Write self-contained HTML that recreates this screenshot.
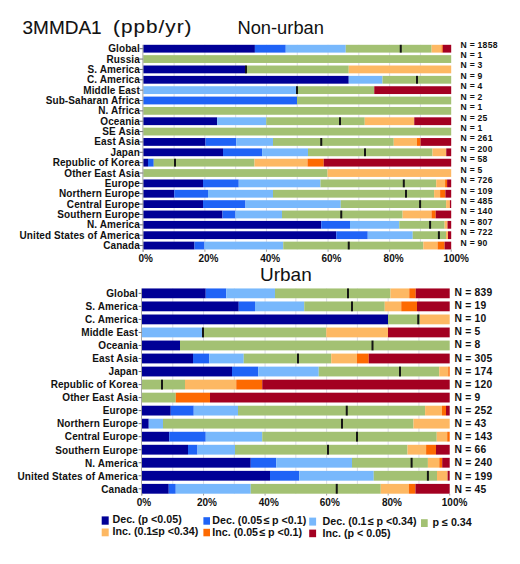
<!DOCTYPE html>
<html><head><meta charset="utf-8"><style>
html,body{margin:0;padding:0;background:#fff;}
body{width:520px;height:564px;position:relative;overflow:hidden;font-family:"Liberation Sans",sans-serif;color:#111;}
div{position:absolute;}
svg{position:absolute;left:0;top:0;}
.lab{font-weight:bold;white-space:nowrap;line-height:12px;text-align:right;letter-spacing:0.1px;}
.n{font-weight:bold;white-space:nowrap;line-height:12px;letter-spacing:0.25px;}
.axl{font-weight:bold;font-size:10px;width:40px;text-align:center;line-height:12px;}
.lt{font-weight:bold;font-size:10.7px;line-height:13px;white-space:nowrap;}
.title{line-height:24px;white-space:nowrap;}
</style></head><body>
<svg width="520" height="564" viewBox="0 0 520 564">
<rect x="173.59" y="44.8" width="1" height="204.64" fill="#dcdce6"/>
<rect x="204.38" y="44.8" width="1" height="204.64" fill="#dcdce6"/>
<rect x="235.17" y="44.8" width="1" height="204.64" fill="#dcdce6"/>
<rect x="265.96" y="44.8" width="1" height="204.64" fill="#dcdce6"/>
<rect x="296.75" y="44.8" width="1" height="204.64" fill="#dcdce6"/>
<rect x="327.54" y="44.8" width="1" height="204.64" fill="#dcdce6"/>
<rect x="358.33" y="44.8" width="1" height="204.64" fill="#dcdce6"/>
<rect x="389.12" y="44.8" width="1" height="204.64" fill="#dcdce6"/>
<rect x="419.91" y="44.8" width="1" height="204.64" fill="#dcdce6"/>
<rect x="139.5" y="48.2" width="3.8" height="1" fill="#707070"/>
<rect x="143.3" y="44.8" width="111.6" height="7.8" fill="#000096"/>
<rect x="254.9" y="44.8" width="30.85" height="7.8" fill="#1f63f6"/>
<rect x="285.75" y="44.8" width="60" height="7.8" fill="#78b8fc"/>
<rect x="345.75" y="44.8" width="85.85" height="7.8" fill="#a3c173"/>
<rect x="431.6" y="44.8" width="9.9" height="7.8" fill="#fdb863"/>
<rect x="441.5" y="44.8" width="1.3" height="7.8" fill="#fd6a02"/>
<rect x="442.8" y="44.8" width="8.4" height="7.8" fill="#a30021"/>
<rect x="399.75" y="44.8" width="2" height="7.8" fill="#151515"/>
<rect x="139.5" y="58.56" width="3.8" height="1" fill="#707070"/>
<rect x="143.3" y="55.16" width="307.9" height="7.8" fill="#a3c173"/>
<rect x="139.5" y="68.92" width="3.8" height="1" fill="#707070"/>
<rect x="143.3" y="65.52" width="102.2" height="7.8" fill="#000096"/>
<rect x="245.5" y="65.52" width="103.25" height="7.8" fill="#a3c173"/>
<rect x="348.75" y="65.52" width="102.45" height="7.8" fill="#fdb863"/>
<rect x="245" y="65.52" width="2" height="7.8" fill="#151515"/>
<rect x="139.5" y="79.28" width="3.8" height="1" fill="#707070"/>
<rect x="143.3" y="75.88" width="205.45" height="7.8" fill="#000096"/>
<rect x="348.75" y="75.88" width="33.75" height="7.8" fill="#78b8fc"/>
<rect x="382.5" y="75.88" width="68.7" height="7.8" fill="#a3c173"/>
<rect x="416" y="75.88" width="2" height="7.8" fill="#151515"/>
<rect x="139.5" y="89.64" width="3.8" height="1" fill="#707070"/>
<rect x="143.3" y="86.24" width="153.2" height="7.8" fill="#78b8fc"/>
<rect x="296.5" y="86.24" width="77.75" height="7.8" fill="#a3c173"/>
<rect x="374.25" y="86.24" width="76.95" height="7.8" fill="#a30021"/>
<rect x="296" y="86.24" width="2" height="7.8" fill="#151515"/>
<rect x="139.5" y="100" width="3.8" height="1" fill="#707070"/>
<rect x="143.3" y="96.6" width="153.7" height="7.8" fill="#1f63f6"/>
<rect x="297" y="96.6" width="154.2" height="7.8" fill="#a3c173"/>
<rect x="139.5" y="110.36" width="3.8" height="1" fill="#707070"/>
<rect x="143.3" y="106.96" width="307.9" height="7.8" fill="#a3c173"/>
<rect x="139.5" y="120.72" width="3.8" height="1" fill="#707070"/>
<rect x="143.3" y="117.32" width="73.8" height="7.8" fill="#000096"/>
<rect x="217.1" y="117.32" width="49.15" height="7.8" fill="#78b8fc"/>
<rect x="266.25" y="117.32" width="98.5" height="7.8" fill="#a3c173"/>
<rect x="364.75" y="117.32" width="49.5" height="7.8" fill="#fdb863"/>
<rect x="414.25" y="117.32" width="36.95" height="7.8" fill="#a30021"/>
<rect x="339" y="117.32" width="2" height="7.8" fill="#151515"/>
<rect x="139.5" y="131.08" width="3.8" height="1" fill="#707070"/>
<rect x="143.3" y="127.68" width="307.9" height="7.8" fill="#a3c173"/>
<rect x="139.5" y="141.44" width="3.8" height="1" fill="#707070"/>
<rect x="143.3" y="138.04" width="62.2" height="7.8" fill="#000096"/>
<rect x="205.5" y="138.04" width="30.75" height="7.8" fill="#1f63f6"/>
<rect x="236.25" y="138.04" width="36.75" height="7.8" fill="#78b8fc"/>
<rect x="273" y="138.04" width="120.75" height="7.8" fill="#a3c173"/>
<rect x="393.75" y="138.04" width="23.25" height="7.8" fill="#fdb863"/>
<rect x="417" y="138.04" width="3.6" height="7.8" fill="#fd6a02"/>
<rect x="420.6" y="138.04" width="30.6" height="7.8" fill="#a30021"/>
<rect x="320.25" y="138.04" width="2" height="7.8" fill="#151515"/>
<rect x="139.5" y="151.8" width="3.8" height="1" fill="#707070"/>
<rect x="143.3" y="148.4" width="79.7" height="7.8" fill="#000096"/>
<rect x="223" y="148.4" width="39.1" height="7.8" fill="#1f63f6"/>
<rect x="262.1" y="148.4" width="45.9" height="7.8" fill="#78b8fc"/>
<rect x="308" y="148.4" width="124.5" height="7.8" fill="#a3c173"/>
<rect x="432.5" y="148.4" width="13.75" height="7.8" fill="#fdb863"/>
<rect x="446.25" y="148.4" width="4.95" height="7.8" fill="#a30021"/>
<rect x="364" y="148.4" width="2" height="7.8" fill="#151515"/>
<rect x="139.5" y="162.16" width="3.8" height="1" fill="#707070"/>
<rect x="143.3" y="158.76" width="4.7" height="7.8" fill="#000096"/>
<rect x="148" y="158.76" width="5.75" height="7.8" fill="#1f63f6"/>
<rect x="153.75" y="158.76" width="100.75" height="7.8" fill="#a3c173"/>
<rect x="254.5" y="158.76" width="53" height="7.8" fill="#fdb863"/>
<rect x="307.5" y="158.76" width="16.25" height="7.8" fill="#fd6a02"/>
<rect x="323.75" y="158.76" width="127.45" height="7.8" fill="#a30021"/>
<rect x="174" y="158.76" width="2" height="7.8" fill="#151515"/>
<rect x="139.5" y="172.52" width="3.8" height="1" fill="#707070"/>
<rect x="143.3" y="169.12" width="184.2" height="7.8" fill="#a3c173"/>
<rect x="327.5" y="169.12" width="123.7" height="7.8" fill="#fdb863"/>
<rect x="139.5" y="182.88" width="3.8" height="1" fill="#707070"/>
<rect x="143.3" y="179.48" width="59.7" height="7.8" fill="#000096"/>
<rect x="203" y="179.48" width="35.75" height="7.8" fill="#1f63f6"/>
<rect x="238.75" y="179.48" width="81.75" height="7.8" fill="#78b8fc"/>
<rect x="320.5" y="179.48" width="115.7" height="7.8" fill="#a3c173"/>
<rect x="436.2" y="179.48" width="8.9" height="7.8" fill="#fdb863"/>
<rect x="445.1" y="179.48" width="2" height="7.8" fill="#fd6a02"/>
<rect x="447.1" y="179.48" width="4.1" height="7.8" fill="#a30021"/>
<rect x="402.8" y="179.48" width="2" height="7.8" fill="#151515"/>
<rect x="139.5" y="193.24" width="3.8" height="1" fill="#707070"/>
<rect x="143.3" y="189.84" width="30.95" height="7.8" fill="#000096"/>
<rect x="174.25" y="189.84" width="33.75" height="7.8" fill="#1f63f6"/>
<rect x="208" y="189.84" width="65" height="7.8" fill="#78b8fc"/>
<rect x="273" y="189.84" width="161.1" height="7.8" fill="#a3c173"/>
<rect x="434.1" y="189.84" width="6" height="7.8" fill="#fdb863"/>
<rect x="440.1" y="189.84" width="5.3" height="7.8" fill="#fd6a02"/>
<rect x="445.4" y="189.84" width="5.8" height="7.8" fill="#a30021"/>
<rect x="405" y="189.84" width="2" height="7.8" fill="#151515"/>
<rect x="139.5" y="203.6" width="3.8" height="1" fill="#707070"/>
<rect x="143.3" y="200.2" width="59.7" height="7.8" fill="#000096"/>
<rect x="203" y="200.2" width="42.5" height="7.8" fill="#1f63f6"/>
<rect x="245.5" y="200.2" width="95.25" height="7.8" fill="#78b8fc"/>
<rect x="340.75" y="200.2" width="105.35" height="7.8" fill="#a3c173"/>
<rect x="446.1" y="200.2" width="3.8" height="7.8" fill="#fdb863"/>
<rect x="449.9" y="200.2" width="1.3" height="7.8" fill="#a30021"/>
<rect x="419.1" y="200.2" width="2" height="7.8" fill="#151515"/>
<rect x="139.5" y="213.96" width="3.8" height="1" fill="#707070"/>
<rect x="143.3" y="210.56" width="79.2" height="7.8" fill="#000096"/>
<rect x="222.5" y="210.56" width="13" height="7.8" fill="#1f63f6"/>
<rect x="235.5" y="210.56" width="46.5" height="7.8" fill="#78b8fc"/>
<rect x="282" y="210.56" width="120.6" height="7.8" fill="#a3c173"/>
<rect x="402.6" y="210.56" width="28.9" height="7.8" fill="#fdb863"/>
<rect x="431.5" y="210.56" width="4.2" height="7.8" fill="#fd6a02"/>
<rect x="435.7" y="210.56" width="15.5" height="7.8" fill="#a30021"/>
<rect x="340.25" y="210.56" width="2" height="7.8" fill="#151515"/>
<rect x="139.5" y="224.32" width="3.8" height="1" fill="#707070"/>
<rect x="143.3" y="220.92" width="177.95" height="7.8" fill="#000096"/>
<rect x="321.25" y="220.92" width="28.75" height="7.8" fill="#1f63f6"/>
<rect x="350" y="220.92" width="49.25" height="7.8" fill="#78b8fc"/>
<rect x="399.25" y="220.92" width="45.35" height="7.8" fill="#a3c173"/>
<rect x="444.6" y="220.92" width="2.9" height="7.8" fill="#fdb863"/>
<rect x="447.5" y="220.92" width="3.7" height="7.8" fill="#a30021"/>
<rect x="429.1" y="220.92" width="2" height="7.8" fill="#151515"/>
<rect x="139.5" y="234.68" width="3.8" height="1" fill="#707070"/>
<rect x="143.3" y="231.28" width="192.95" height="7.8" fill="#000096"/>
<rect x="336.25" y="231.28" width="31.5" height="7.8" fill="#1f63f6"/>
<rect x="367.75" y="231.28" width="45" height="7.8" fill="#78b8fc"/>
<rect x="412.75" y="231.28" width="33.25" height="7.8" fill="#a3c173"/>
<rect x="446" y="231.28" width="2" height="7.8" fill="#fdb863"/>
<rect x="448" y="231.28" width="3.2" height="7.8" fill="#a30021"/>
<rect x="437.9" y="231.28" width="2" height="7.8" fill="#151515"/>
<rect x="139.5" y="245.04" width="3.8" height="1" fill="#707070"/>
<rect x="143.3" y="241.64" width="51.2" height="7.8" fill="#000096"/>
<rect x="194.5" y="241.64" width="10" height="7.8" fill="#1f63f6"/>
<rect x="204.5" y="241.64" width="78.75" height="7.8" fill="#78b8fc"/>
<rect x="283.25" y="241.64" width="140.05" height="7.8" fill="#a3c173"/>
<rect x="423.3" y="241.64" width="14.3" height="7.8" fill="#fdb863"/>
<rect x="437.6" y="241.64" width="7" height="7.8" fill="#fd6a02"/>
<rect x="444.6" y="241.64" width="6.6" height="7.8" fill="#a30021"/>
<rect x="347.75" y="241.64" width="2" height="7.8" fill="#151515"/>
<rect x="142.5" y="44.8" width="0.8" height="207" fill="#909090"/>
<rect x="142.8" y="249.44" width="1" height="2.36" fill="#a0a0a0"/>
<rect x="204.38" y="249.44" width="1" height="2.36" fill="#a0a0a0"/>
<rect x="265.96" y="249.44" width="1" height="2.36" fill="#a0a0a0"/>
<rect x="327.54" y="249.44" width="1" height="2.36" fill="#a0a0a0"/>
<rect x="389.12" y="249.44" width="1" height="2.36" fill="#a0a0a0"/>
<rect x="450.7" y="249.44" width="1" height="2.36" fill="#a0a0a0"/>
<rect x="172.27" y="288.45" width="1" height="205.25" fill="#dcdce6"/>
<rect x="203.04" y="288.45" width="1" height="205.25" fill="#dcdce6"/>
<rect x="233.81" y="288.45" width="1" height="205.25" fill="#dcdce6"/>
<rect x="264.58" y="288.45" width="1" height="205.25" fill="#dcdce6"/>
<rect x="295.35" y="288.45" width="1" height="205.25" fill="#dcdce6"/>
<rect x="326.12" y="288.45" width="1" height="205.25" fill="#dcdce6"/>
<rect x="356.89" y="288.45" width="1" height="205.25" fill="#dcdce6"/>
<rect x="387.66" y="288.45" width="1" height="205.25" fill="#dcdce6"/>
<rect x="418.43" y="288.45" width="1" height="205.25" fill="#dcdce6"/>
<rect x="138.6" y="292.85" width="3.4" height="1" fill="#707070"/>
<rect x="142" y="288.45" width="63.75" height="9.8" fill="#000096"/>
<rect x="205.75" y="288.45" width="20.5" height="9.8" fill="#1f63f6"/>
<rect x="226.25" y="288.45" width="48.75" height="9.8" fill="#78b8fc"/>
<rect x="275" y="288.45" width="115.5" height="9.8" fill="#a3c173"/>
<rect x="390.5" y="288.45" width="18.75" height="9.8" fill="#fdb863"/>
<rect x="409.25" y="288.45" width="6.5" height="9.8" fill="#fd6a02"/>
<rect x="415.75" y="288.45" width="33.95" height="9.8" fill="#a30021"/>
<rect x="347" y="288.45" width="2" height="9.8" fill="#151515"/>
<rect x="138.6" y="305.88" width="3.4" height="1" fill="#707070"/>
<rect x="142" y="301.48" width="96.75" height="9.8" fill="#000096"/>
<rect x="238.75" y="301.48" width="16.25" height="9.8" fill="#1f63f6"/>
<rect x="255" y="301.48" width="49.25" height="9.8" fill="#78b8fc"/>
<rect x="304.25" y="301.48" width="80.5" height="9.8" fill="#a3c173"/>
<rect x="384.75" y="301.48" width="16.5" height="9.8" fill="#fdb863"/>
<rect x="401.25" y="301.48" width="15.75" height="9.8" fill="#fd6a02"/>
<rect x="417" y="301.48" width="32.7" height="9.8" fill="#a30021"/>
<rect x="351" y="301.48" width="2" height="9.8" fill="#151515"/>
<rect x="138.6" y="318.91" width="3.4" height="1" fill="#707070"/>
<rect x="142" y="314.51" width="246" height="9.8" fill="#000096"/>
<rect x="388" y="314.51" width="32" height="9.8" fill="#a3c173"/>
<rect x="420" y="314.51" width="29.7" height="9.8" fill="#fdb863"/>
<rect x="417.25" y="314.51" width="2" height="9.8" fill="#151515"/>
<rect x="138.6" y="331.94" width="3.4" height="1" fill="#707070"/>
<rect x="142" y="327.54" width="60.5" height="9.8" fill="#78b8fc"/>
<rect x="202.5" y="327.54" width="123.75" height="9.8" fill="#a3c173"/>
<rect x="326.25" y="327.54" width="61.75" height="9.8" fill="#fdb863"/>
<rect x="388" y="327.54" width="61.7" height="9.8" fill="#a30021"/>
<rect x="202" y="327.54" width="2" height="9.8" fill="#151515"/>
<rect x="138.6" y="344.97" width="3.4" height="1" fill="#707070"/>
<rect x="142" y="340.57" width="38" height="9.8" fill="#000096"/>
<rect x="180" y="340.57" width="269.7" height="9.8" fill="#a3c173"/>
<rect x="371.5" y="340.57" width="2" height="9.8" fill="#151515"/>
<rect x="138.6" y="358" width="3.4" height="1" fill="#707070"/>
<rect x="142" y="353.6" width="51" height="9.8" fill="#000096"/>
<rect x="193" y="353.6" width="16.25" height="9.8" fill="#1f63f6"/>
<rect x="209.25" y="353.6" width="34.5" height="9.8" fill="#78b8fc"/>
<rect x="243.75" y="353.6" width="87.5" height="9.8" fill="#a3c173"/>
<rect x="331.25" y="353.6" width="25.75" height="9.8" fill="#fdb863"/>
<rect x="357" y="353.6" width="11.75" height="9.8" fill="#fd6a02"/>
<rect x="368.75" y="353.6" width="80.95" height="9.8" fill="#a30021"/>
<rect x="297" y="353.6" width="2" height="9.8" fill="#151515"/>
<rect x="138.6" y="371.03" width="3.4" height="1" fill="#707070"/>
<rect x="142" y="366.63" width="90" height="9.8" fill="#000096"/>
<rect x="232" y="366.63" width="26.25" height="9.8" fill="#1f63f6"/>
<rect x="258.25" y="366.63" width="60.5" height="9.8" fill="#78b8fc"/>
<rect x="318.75" y="366.63" width="120.5" height="9.8" fill="#a3c173"/>
<rect x="439.25" y="366.63" width="9" height="9.8" fill="#fdb863"/>
<rect x="448.25" y="366.63" width="1.45" height="9.8" fill="#fd6a02"/>
<rect x="399" y="366.63" width="2" height="9.8" fill="#151515"/>
<rect x="138.6" y="384.06" width="3.4" height="1" fill="#707070"/>
<rect x="142" y="379.66" width="43" height="9.8" fill="#a3c173"/>
<rect x="185" y="379.66" width="51.25" height="9.8" fill="#fdb863"/>
<rect x="236.25" y="379.66" width="26" height="9.8" fill="#fd6a02"/>
<rect x="262.25" y="379.66" width="187.45" height="9.8" fill="#a30021"/>
<rect x="161" y="379.66" width="2" height="9.8" fill="#151515"/>
<rect x="138.6" y="397.09" width="3.4" height="1" fill="#707070"/>
<rect x="142" y="392.69" width="33.75" height="9.8" fill="#a3c173"/>
<rect x="175.75" y="392.69" width="34.25" height="9.8" fill="#fd6a02"/>
<rect x="210" y="392.69" width="239.7" height="9.8" fill="#a30021"/>
<rect x="138.6" y="410.12" width="3.4" height="1" fill="#707070"/>
<rect x="142" y="405.72" width="28.75" height="9.8" fill="#000096"/>
<rect x="170.75" y="405.72" width="23" height="9.8" fill="#1f63f6"/>
<rect x="193.75" y="405.72" width="44.25" height="9.8" fill="#78b8fc"/>
<rect x="238" y="405.72" width="187.1" height="9.8" fill="#a3c173"/>
<rect x="425.1" y="405.72" width="16.9" height="9.8" fill="#fdb863"/>
<rect x="442" y="405.72" width="4" height="9.8" fill="#fd6a02"/>
<rect x="446" y="405.72" width="3.7" height="9.8" fill="#a30021"/>
<rect x="345.75" y="405.72" width="2" height="9.8" fill="#151515"/>
<rect x="138.6" y="423.15" width="3.4" height="1" fill="#707070"/>
<rect x="142" y="418.75" width="6.75" height="9.8" fill="#000096"/>
<rect x="148.75" y="418.75" width="14.25" height="9.8" fill="#78b8fc"/>
<rect x="163" y="418.75" width="250.5" height="9.8" fill="#a3c173"/>
<rect x="413.5" y="418.75" width="36.2" height="9.8" fill="#fdb863"/>
<rect x="341" y="418.75" width="2" height="9.8" fill="#151515"/>
<rect x="138.6" y="436.18" width="3.4" height="1" fill="#707070"/>
<rect x="142" y="431.78" width="27.25" height="9.8" fill="#000096"/>
<rect x="169.25" y="431.78" width="36.5" height="9.8" fill="#1f63f6"/>
<rect x="205.75" y="431.78" width="56.5" height="9.8" fill="#78b8fc"/>
<rect x="262.25" y="431.78" width="174.5" height="9.8" fill="#a3c173"/>
<rect x="436.75" y="431.78" width="10.45" height="9.8" fill="#fdb863"/>
<rect x="447.2" y="431.78" width="2.5" height="9.8" fill="#fd6a02"/>
<rect x="356" y="431.78" width="2" height="9.8" fill="#151515"/>
<rect x="138.6" y="449.21" width="3.4" height="1" fill="#707070"/>
<rect x="142" y="444.81" width="46" height="9.8" fill="#000096"/>
<rect x="188" y="444.81" width="9.5" height="9.8" fill="#1f63f6"/>
<rect x="197.5" y="444.81" width="37.5" height="9.8" fill="#78b8fc"/>
<rect x="235" y="444.81" width="172.5" height="9.8" fill="#a3c173"/>
<rect x="407.5" y="444.81" width="18.6" height="9.8" fill="#fdb863"/>
<rect x="426.1" y="444.81" width="9.9" height="9.8" fill="#fd6a02"/>
<rect x="436" y="444.81" width="13.7" height="9.8" fill="#a30021"/>
<rect x="327" y="444.81" width="2" height="9.8" fill="#151515"/>
<rect x="138.6" y="462.24" width="3.4" height="1" fill="#707070"/>
<rect x="142" y="457.84" width="108.75" height="9.8" fill="#000096"/>
<rect x="250.75" y="457.84" width="25.5" height="9.8" fill="#1f63f6"/>
<rect x="276.25" y="457.84" width="75.75" height="9.8" fill="#78b8fc"/>
<rect x="352" y="457.84" width="75.9" height="9.8" fill="#a3c173"/>
<rect x="427.9" y="457.84" width="11.4" height="9.8" fill="#fdb863"/>
<rect x="439.3" y="457.84" width="2.9" height="9.8" fill="#fd6a02"/>
<rect x="442.2" y="457.84" width="7.5" height="9.8" fill="#a30021"/>
<rect x="410.6" y="457.84" width="2" height="9.8" fill="#151515"/>
<rect x="138.6" y="475.27" width="3.4" height="1" fill="#707070"/>
<rect x="142" y="470.87" width="128" height="9.8" fill="#000096"/>
<rect x="270" y="470.87" width="29.25" height="9.8" fill="#1f63f6"/>
<rect x="299.25" y="470.87" width="74.5" height="9.8" fill="#78b8fc"/>
<rect x="373.75" y="470.87" width="63.25" height="9.8" fill="#a3c173"/>
<rect x="437" y="470.87" width="10.6" height="9.8" fill="#fdb863"/>
<rect x="447.6" y="470.87" width="2.1" height="9.8" fill="#a30021"/>
<rect x="426.9" y="470.87" width="2" height="9.8" fill="#151515"/>
<rect x="138.6" y="488.3" width="3.4" height="1" fill="#707070"/>
<rect x="142" y="483.9" width="26.75" height="9.8" fill="#000096"/>
<rect x="168.75" y="483.9" width="7" height="9.8" fill="#1f63f6"/>
<rect x="175.75" y="483.9" width="75" height="9.8" fill="#78b8fc"/>
<rect x="250.75" y="483.9" width="130" height="9.8" fill="#a3c173"/>
<rect x="380.75" y="483.9" width="28.05" height="9.8" fill="#fdb863"/>
<rect x="408.8" y="483.9" width="6.65" height="9.8" fill="#fd6a02"/>
<rect x="415.45" y="483.9" width="34.25" height="9.8" fill="#a30021"/>
<rect x="335.75" y="483.9" width="2" height="9.8" fill="#151515"/>
<rect x="141.2" y="288.45" width="0.8" height="207.05" fill="#909090"/>
<rect x="141.5" y="493.7" width="1" height="1.8" fill="#a0a0a0"/>
<rect x="203.04" y="493.7" width="1" height="1.8" fill="#a0a0a0"/>
<rect x="264.58" y="493.7" width="1" height="1.8" fill="#a0a0a0"/>
<rect x="326.12" y="493.7" width="1" height="1.8" fill="#a0a0a0"/>
<rect x="387.66" y="493.7" width="1" height="1.8" fill="#a0a0a0"/>
<rect x="449.2" y="493.7" width="1" height="1.8" fill="#a0a0a0"/>
<rect x="101.7" y="516.4" width="7" height="8.3" fill="#000096"/>
<rect x="203.4" y="517.2" width="6.6" height="7.5" fill="#1f63f6"/>
<rect x="309.2" y="517.6" width="6.9" height="8" fill="#78b8fc"/>
<rect x="421" y="519.2" width="6.7" height="7.8" fill="#a3c173"/>
<rect x="101.7" y="528.5" width="7" height="7.8" fill="#fdb863"/>
<rect x="203.4" y="528.8" width="6.6" height="7.5" fill="#fd6a02"/>
<rect x="309.2" y="529.6" width="6.9" height="7.6" fill="#a30021"/>
</svg>
<div class="title" style="left:22.5px;top:15.5px;font-size:19px;-webkit-text-stroke:0.1px #000">3MMDA1</div>
<div class="title" style="left:113px;top:15px;font-size:18.5px;letter-spacing:0.9px;transform:scaleX(1.12);transform-origin:0 0;-webkit-text-stroke:0.1px #000">(ppb/yr)</div>
<div class="title" style="left:237.5px;top:16px;font-size:18.3px;">Non-urban</div>
<div class="title" style="left:260px;top:263px;font-size:19px;">Urban</div>
<div class="lab" style="right:380.1px;top:43.2px;font-size:10px">Global</div>
<div class="n" style="left:460.6px;top:38.5px;font-size:8.6px">N = 1858</div>
<div class="lab" style="right:380.1px;top:53.56px;font-size:10px">Russia</div>
<div class="n" style="left:460.6px;top:48.93px;font-size:8.6px">N = 1</div>
<div class="lab" style="right:380.1px;top:63.92px;font-size:10px">S. America</div>
<div class="n" style="left:460.6px;top:59.36px;font-size:8.6px">N = 3</div>
<div class="lab" style="right:380.1px;top:74.28px;font-size:10px">C. America</div>
<div class="n" style="left:460.6px;top:69.79px;font-size:8.6px">N = 9</div>
<div class="lab" style="right:380.1px;top:84.64px;font-size:10px">Middle East</div>
<div class="n" style="left:460.6px;top:80.22px;font-size:8.6px">N = 4</div>
<div class="lab" style="right:380.1px;top:95px;font-size:10px">Sub-Saharan Africa</div>
<div class="n" style="left:460.6px;top:90.65px;font-size:8.6px">N = 2</div>
<div class="lab" style="right:380.1px;top:105.36px;font-size:10px">N. Africa</div>
<div class="n" style="left:460.6px;top:101.08px;font-size:8.6px">N = 1</div>
<div class="lab" style="right:380.1px;top:115.72px;font-size:10px">Oceania</div>
<div class="n" style="left:460.6px;top:111.51px;font-size:8.6px">N = 25</div>
<div class="lab" style="right:380.1px;top:126.08px;font-size:10px">SE Asia</div>
<div class="n" style="left:460.6px;top:121.94px;font-size:8.6px">N = 1</div>
<div class="lab" style="right:380.1px;top:136.44px;font-size:10px">East Asia</div>
<div class="n" style="left:460.6px;top:132.37px;font-size:8.6px">N = 261</div>
<div class="lab" style="right:380.1px;top:146.8px;font-size:10px">Japan</div>
<div class="n" style="left:460.6px;top:142.8px;font-size:8.6px">N = 200</div>
<div class="lab" style="right:380.1px;top:157.16px;font-size:10px">Republic of Korea</div>
<div class="n" style="left:460.6px;top:153.23px;font-size:8.6px">N = 58</div>
<div class="lab" style="right:380.1px;top:167.52px;font-size:10px">Other East Asia</div>
<div class="n" style="left:460.6px;top:163.66px;font-size:8.6px">N = 5</div>
<div class="lab" style="right:380.1px;top:177.88px;font-size:10px">Europe</div>
<div class="n" style="left:460.6px;top:174.09px;font-size:8.6px">N = 726</div>
<div class="lab" style="right:380.1px;top:188.24px;font-size:10px">Northern Europe</div>
<div class="n" style="left:460.6px;top:184.52px;font-size:8.6px">N = 109</div>
<div class="lab" style="right:380.1px;top:198.6px;font-size:10px">Central Europe</div>
<div class="n" style="left:460.6px;top:194.95px;font-size:8.6px">N = 485</div>
<div class="lab" style="right:380.1px;top:208.96px;font-size:10px">Southern Europe</div>
<div class="n" style="left:460.6px;top:205.38px;font-size:8.6px">N = 140</div>
<div class="lab" style="right:380.1px;top:219.32px;font-size:10px">N. America</div>
<div class="n" style="left:460.6px;top:215.81px;font-size:8.6px">N = 807</div>
<div class="lab" style="right:380.1px;top:229.68px;font-size:10px">United States of America</div>
<div class="n" style="left:460.6px;top:226.24px;font-size:8.6px">N = 722</div>
<div class="lab" style="right:380.1px;top:240.04px;font-size:10px">Canada</div>
<div class="n" style="left:460.6px;top:236.67px;font-size:8.6px">N = 90</div>
<div class="axl" style="left:125.7px;top:252.7px">0%</div>
<div class="axl" style="left:188.4px;top:252.7px">20%</div>
<div class="axl" style="left:250.2px;top:252.7px">40%</div>
<div class="axl" style="left:311.4px;top:252.7px">60%</div>
<div class="axl" style="left:373.6px;top:252.7px">80%</div>
<div class="axl" style="left:436.2px;top:252.7px">100%</div>
<div class="lab" style="right:382.1px;top:288.15px;font-size:10px">Global</div>
<div class="n" style="left:454.4px;top:287px;font-size:10.3px">N = 839</div>
<div class="lab" style="right:382.1px;top:301.18px;font-size:10px">S. America</div>
<div class="n" style="left:454.4px;top:300.11px;font-size:10.3px">N = 19</div>
<div class="lab" style="right:382.1px;top:314.21px;font-size:10px">C. America</div>
<div class="n" style="left:454.4px;top:313.22px;font-size:10.3px">N = 10</div>
<div class="lab" style="right:382.1px;top:327.24px;font-size:10px">Middle East</div>
<div class="n" style="left:454.4px;top:326.33px;font-size:10.3px">N = 5</div>
<div class="lab" style="right:382.1px;top:340.27px;font-size:10px">Oceania</div>
<div class="n" style="left:454.4px;top:339.44px;font-size:10.3px">N = 8</div>
<div class="lab" style="right:382.1px;top:353.3px;font-size:10px">East Asia</div>
<div class="n" style="left:454.4px;top:352.55px;font-size:10.3px">N = 305</div>
<div class="lab" style="right:382.1px;top:366.33px;font-size:10px">Japan</div>
<div class="n" style="left:454.4px;top:365.66px;font-size:10.3px">N = 174</div>
<div class="lab" style="right:382.1px;top:379.36px;font-size:10px">Republic of Korea</div>
<div class="n" style="left:454.4px;top:378.77px;font-size:10.3px">N = 120</div>
<div class="lab" style="right:382.1px;top:392.39px;font-size:10px">Other East Asia</div>
<div class="n" style="left:454.4px;top:391.88px;font-size:10.3px">N = 9</div>
<div class="lab" style="right:382.1px;top:405.42px;font-size:10px">Europe</div>
<div class="n" style="left:454.4px;top:404.99px;font-size:10.3px">N = 252</div>
<div class="lab" style="right:382.1px;top:418.45px;font-size:10px">Northern Europe</div>
<div class="n" style="left:454.4px;top:418.1px;font-size:10.3px">N = 43</div>
<div class="lab" style="right:382.1px;top:431.48px;font-size:10px">Central Europe</div>
<div class="n" style="left:454.4px;top:431.21px;font-size:10.3px">N = 143</div>
<div class="lab" style="right:382.1px;top:444.51px;font-size:10px">Southern Europe</div>
<div class="n" style="left:454.4px;top:444.32px;font-size:10.3px">N = 66</div>
<div class="lab" style="right:382.1px;top:457.54px;font-size:10px">N. America</div>
<div class="n" style="left:454.4px;top:457.43px;font-size:10.3px">N = 240</div>
<div class="lab" style="right:382.1px;top:470.57px;font-size:10px">United States of America</div>
<div class="n" style="left:454.4px;top:470.54px;font-size:10.3px">N = 199</div>
<div class="lab" style="right:382.1px;top:483.6px;font-size:10px">Canada</div>
<div class="n" style="left:454.4px;top:483.65px;font-size:10.3px">N = 45</div>
<div class="axl" style="left:124px;top:497.1px">0%</div>
<div class="axl" style="left:186.9px;top:497.1px">20%</div>
<div class="axl" style="left:248.8px;top:497.1px">40%</div>
<div class="axl" style="left:309.8px;top:497.1px">60%</div>
<div class="axl" style="left:371.9px;top:497.1px">80%</div>
<div class="axl" style="left:434.6px;top:497.1px">100%</div>
<div class="lt" style="left:112.5px;top:513px">Dec. (p &lt;0.05)</div>
<div class="lt" style="left:212.3px;top:513.8px">Dec. (0.05<span style="margin:0 2.5px 0 1.5px">≤</span>p &lt;0.1)</div>
<div class="lt" style="left:322.6px;top:515.1px">Dec. (0.1<span style="margin:0 2.5px 0 1.5px">≤</span>p &lt;0.34)</div>
<div class="lt" style="left:432.6px;top:515.8px">p ≤ 0.34</div>
<div class="lt" style="left:112.5px;top:525.3px">Inc. (0.1≤p &lt;0.34)</div>
<div class="lt" style="left:212.3px;top:526px">Inc. (0.05<span style="margin:0 2.5px 0 1.5px">≤</span>p &lt;0.1)</div>
<div class="lt" style="left:322.6px;top:527.3px">Inc. (p &lt; 0.05)</div>
</body></html>
